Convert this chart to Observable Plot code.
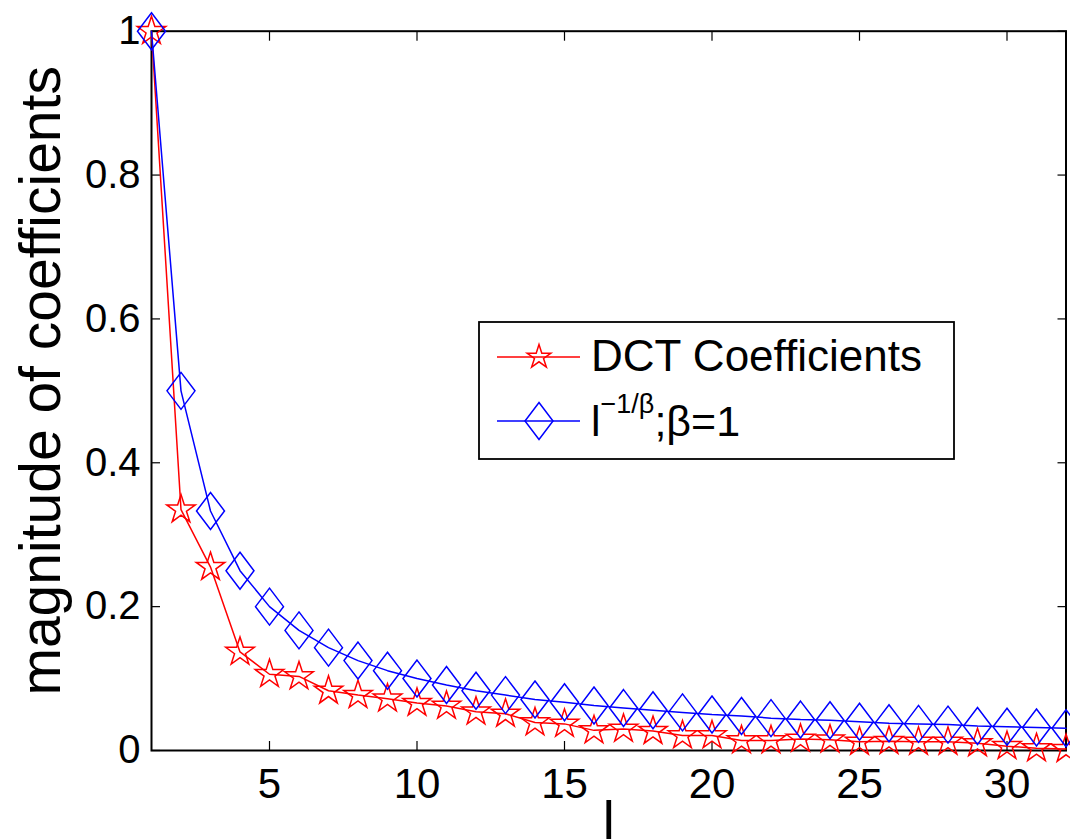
<!DOCTYPE html>
<html>
<head>
<meta charset="utf-8">
<script src="https://cdn.jsdelivr.net/npm/d3@7"></script>
<script src="https://cdn.jsdelivr.net/npm/@observablehq/plot@0.6"></script>
<style>
  html, body { margin: 0; padding: 0; background: white; }
  #wrap { position: relative; width: 1070px; height: 839px; overflow: hidden; font-family: "Liberation Sans", Arial, sans-serif; }
</style>
</head>
<body>
<div id="wrap"></div>
<script>
// ---- data ----
const lValues = [1,2,3,4,5,6,7,8,9,10,11,12,13,14,15,16,17,18,19,20,21,22,23,24,25,26,27,28,29,30,31,32];
const dctCoefficients = [1.000,0.335,0.255,0.137,0.106,0.103,0.083,0.077,0.072,0.066,0.062,0.054,0.051,0.039,0.037,0.028,0.030,0.027,0.021,0.021,0.014,0.014,0.016,0.015,0.012,0.013,0.012,0.012,0.010,0.006,0.003,0.002];
const powerLaw = [1.000,0.500,0.333,0.250,0.200,0.167,0.143,0.125,0.111,0.100,0.091,0.083,0.077,0.071,0.067,0.0625,0.059,0.056,0.053,0.050,0.048,0.045,0.043,0.042,0.040,0.038,0.037,0.036,0.034,0.033,0.032,0.031];
const xTicks = [5,10,15,20,25,30];
const xTickLabels = ["5","10","15","20","25","30"];
const yTicks = [0,0.2,0.4,0.6,0.8,1];
const yTickLabels = ["0","0.2","0.4","0.6","0.8","1"];
const seriesNames = ["DCT Coefficients", "l^-1/β;β=1"];
const xLabel = "l";
const yLabel = "magnitude of coefficients";

const dctData = lValues.map((l, i) => ({l, v: dctCoefficients[i]}));
const powData = lValues.map((l, i) => ({l, v: powerLaw[i]}));

// ---- custom symbols ----
const starSymbol = {
  draw(ctx, size) {
    const R = Math.sqrt(size / Math.PI), r = R * 0.382;
    for (let k = 0; k < 10; k++) {
      const a = -Math.PI / 2 + k * Math.PI / 5;
      const rr = k % 2 ? r : R;
      const px = rr * Math.cos(a), py = rr * Math.sin(a);
      k ? ctx.lineTo(px, py) : ctx.moveTo(px, py);
    }
    ctx.closePath();
  }
};
const tallDiamond = {
  draw(ctx, size) {
    const R = Math.sqrt(size / Math.PI), H = R * 1.32;
    ctx.moveTo(0, -H); ctx.lineTo(R, 0); ctx.lineTo(0, H); ctx.lineTo(-R, 0); ctx.closePath();
  }
};

const fmtX = d => xTickLabels[xTicks.indexOf(d)];
const fmtY = d => yTickLabels[yTicks.indexOf(d)];

const chart = Plot.plot({
  width: 1070,
  height: 839,
  marginLeft: 151,
  marginRight: 4.5,
  marginTop: 30.7,
  marginBottom: 89,
  style: { fontFamily: "'Liberation Sans', Arial, sans-serif", background: "white", overflow: "visible", color: "black" },
  x: { domain: [1, 32] },
  y: { domain: [0, 1] },
  marks: [
    Plot.frame({ stroke: "black", strokeWidth: 2 }),
    // inward ticks on four sides
    Plot.axisY(yTicks, { anchor: "left", tickSize: 9, dx: 9, tickFormat: () => "", label: null, strokeWidth: 1.2 }),
    Plot.axisY(yTicks, { anchor: "right", tickSize: 9, dx: -9, tickFormat: () => "", label: null, strokeWidth: 1.2 }),
    Plot.axisX(xTicks, { anchor: "bottom", tickSize: 9, dy: -9, tickFormat: () => "", label: null, strokeWidth: 1.2 }),
    Plot.axisX(xTicks, { anchor: "top", tickSize: 9, dy: 9, tickFormat: () => "", label: null, strokeWidth: 1.2 }),
    // tick labels
    Plot.axisY(yTicks, { anchor: "left", tickSize: 0, tickPadding: 11, tickFormat: fmtY, label: null, fontSize: 40, fill: "black" }),
    Plot.axisX(xTicks, { anchor: "bottom", tickSize: 0, tickPadding: 18, tickFormat: fmtX, label: null, fontSize: 42, fill: "black" }),
    // axis titles
    Plot.text([xLabel], { frameAnchor: "bottom", text: d => d, lineAnchor: "top", dy: 50, fontSize: 54, fill: "black" }),
    Plot.text([yLabel], { frameAnchor: "left", text: d => d, rotate: -90, textAnchor: "middle", dx: -110, dy: -10, fontSize: 57, fill: "black" }),
    // series
    Plot.line(dctData, { x: "l", y: "v", stroke: "#ff0000", strokeWidth: 1.5 }),
    Plot.dot(dctData, { x: "l", y: "v", symbol: starSymbol, r: 15, stroke: "#ff0000", fill: "none", strokeWidth: 1.5 }),
    Plot.line(powData, { x: "l", y: "v", stroke: "#0000ff", strokeWidth: 1.5 }),
    Plot.dot(powData, { x: "l", y: "v", symbol: tallDiamond, r: 14, stroke: "#0000ff", fill: "none", strokeWidth: 1.5 })
  ]
});

const wrap = document.getElementById("wrap");
wrap.appendChild(chart);

// ---- legend ----
const leg = d3.create("svg").attr("id", "legend").attr("width", 477).attr("height", 139)
  .style("position", "absolute").style("left", "478px").style("top", "321px").style("overflow", "visible");
leg.append("rect").attr("x", 1).attr("y", 1).attr("width", 475).attr("height", 137)
  .attr("fill", "white").attr("stroke", "black").attr("stroke-width", 1.8);
const rows = [
  { cy: 36, color: "#ff0000", sym: starSymbol, r: 12.5 },
  { cy: 100, color: "#0000ff", sym: tallDiamond, r: 14 }
];
rows.forEach((row) => {
  leg.append("line").attr("x1", 19).attr("x2", 102).attr("y1", row.cy).attr("y2", row.cy)
    .attr("stroke", row.color).attr("stroke-width", 1.5);
  leg.append("path").attr("d", d3.symbol(row.sym, row.r * row.r * Math.PI)())
    .attr("transform", `translate(61,${row.cy})`).attr("fill", "none")
    .attr("stroke", row.color).attr("stroke-width", 1.5);
});
leg.append("text").attr("x", 113).attr("y", 50).attr("font-size", 44)
  .attr("font-family", "'Liberation Sans', Arial, sans-serif").text(seriesNames[0]);
const t2 = leg.append("text").attr("x", 113).attr("y", 115).attr("font-size", 43)
  .attr("font-family", "'Liberation Sans', Arial, sans-serif");
t2.append("tspan").text("l");
t2.append("tspan").attr("dy", -23).attr("font-size", 27).text("−1/β");
t2.append("tspan").attr("dy", 23).text(";β=1");
wrap.appendChild(leg.node());
</script>
</body>
</html>
